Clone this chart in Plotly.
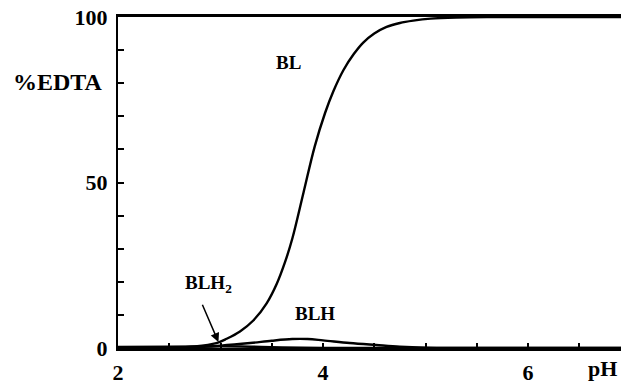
import plotly.graph_objects as go

# pH values
ph_bl = [2.0, 2.3, 2.5, 2.75, 2.96, 3.06, 3.19, 3.32, 3.45, 3.55, 3.63, 3.7, 3.81, 3.92, 4.02, 4.1, 4.2,
         4.3, 4.39, 4.5, 4.62, 4.75, 4.88, 5.05, 5.3, 5.6, 6.0, 7.0]
pct_bl = [0.0, 0.0, 0.1, 0.5, 1.5, 2.8, 5.0, 8.3, 13.5, 19.5, 26.0, 33.0, 47.0, 61.0, 71.0, 77.5, 84.0,
          88.8, 92.2, 95.0, 97.0, 98.2, 98.9, 99.5, 99.85, 100.0, 100.0, 100.0]

ph_blh = [2.0, 2.5, 2.8, 3.0, 3.29, 3.5, 3.7, 3.85, 4.0, 4.26, 4.52, 4.75, 5.0, 5.3, 7.0]
pct_blh = [0.0, 0.0, 0.3, 0.7, 1.5, 2.2, 2.7, 2.7, 2.3, 1.5, 0.9, 0.4, 0.1, 0.0, 0.0]

ph_blh2 = [2.0, 2.5, 2.8, 3.0, 3.3, 3.6, 4.0, 4.5, 7.0]
pct_blh2 = [0.3, 0.4, 0.5, 0.5, 0.4, 0.2, 0.05, 0.0, 0.0]

x_tickvals = [2.0, 2.5, 3.0, 3.5, 4.0, 4.5, 5.0, 5.5, 6.0, 6.5]
x_ticktext = ["2", "", "", "", "4", "", "", "", "6", ""]
y_tickvals = [0, 10, 20, 30, 40, 50, 60, 70, 80, 90, 100]
y_ticktext = ["0", "", "", "", "", "50", "", "", "", "", "100"]

FONT = "Liberation Serif, Times New Roman, serif"

fig = go.Figure()
for xs, ys in [(ph_blh2, pct_blh2), (ph_blh, pct_blh), (ph_bl, pct_bl)]:
    fig.add_trace(go.Scatter(x=xs, y=ys, mode="lines", line=dict(color="black", width=2.4, shape="spline", smoothing=1.0),
                             showlegend=False, hoverinfo="skip"))

fig.update_layout(
    width=621, height=385,
    margin=dict(l=118, r=0, t=17, b=35),
    paper_bgcolor="white", plot_bgcolor="white",
    font=dict(family=FONT, color="black"),
    xaxis=dict(range=[2, 6.907], tickvals=x_tickvals, ticktext=x_ticktext, ticks="inside", ticklen=5,
               tickwidth=1.5, tickcolor="black", showgrid=False, zeroline=False, showline=True,
               linecolor="black", linewidth=2.5, mirror=True,
               tickfont=dict(family=FONT, size=22, weight="bold", color="black"), ticklabelstandoff=3),
    yaxis=dict(range=[0, 100], tickvals=y_tickvals, ticktext=y_ticktext, ticks="inside", ticklen=6,
               tickwidth=1.5, tickcolor="black", showgrid=False, zeroline=False, showline=True,
               linecolor="black", linewidth=2,
               tickfont=dict(family=FONT, size=22, weight="bold", color="black"), ticklabelstandoff=4),
)

anns = [
    dict(text="<b>%EDTA</b>", x=58, y=82, size=24),
    dict(text="<b>pH</b>", x=602, y=371, size=22),
    dict(text="<b>BL</b>", x=288, y=63, size=19),
    dict(text="<b>BLH</b>", x=315, y=315, size=19),
    dict(text="<b>BLH<sub>2</sub></b>", x=208, y=286, size=19),
]
for a in anns:
    fig.add_annotation(text=a["text"], xref="paper", yref="paper",
                       x=(a["x"] - 118) / 503, y=(350 - a["y"]) / 333,
                       xanchor="center", yanchor="middle", showarrow=False,
                       font=dict(family=FONT, size=a["size"], color="black"))

# arrow from BLH2 label to the curve
fig.add_annotation(x=2.98, y=1.8, ax=2.817, ay=13.5, xref="x", yref="y", axref="x", ayref="y",
                   text="", showarrow=True, arrowhead=2, arrowsize=1.2, arrowwidth=1.5, arrowcolor="black")

fig.write_html("out.html")
